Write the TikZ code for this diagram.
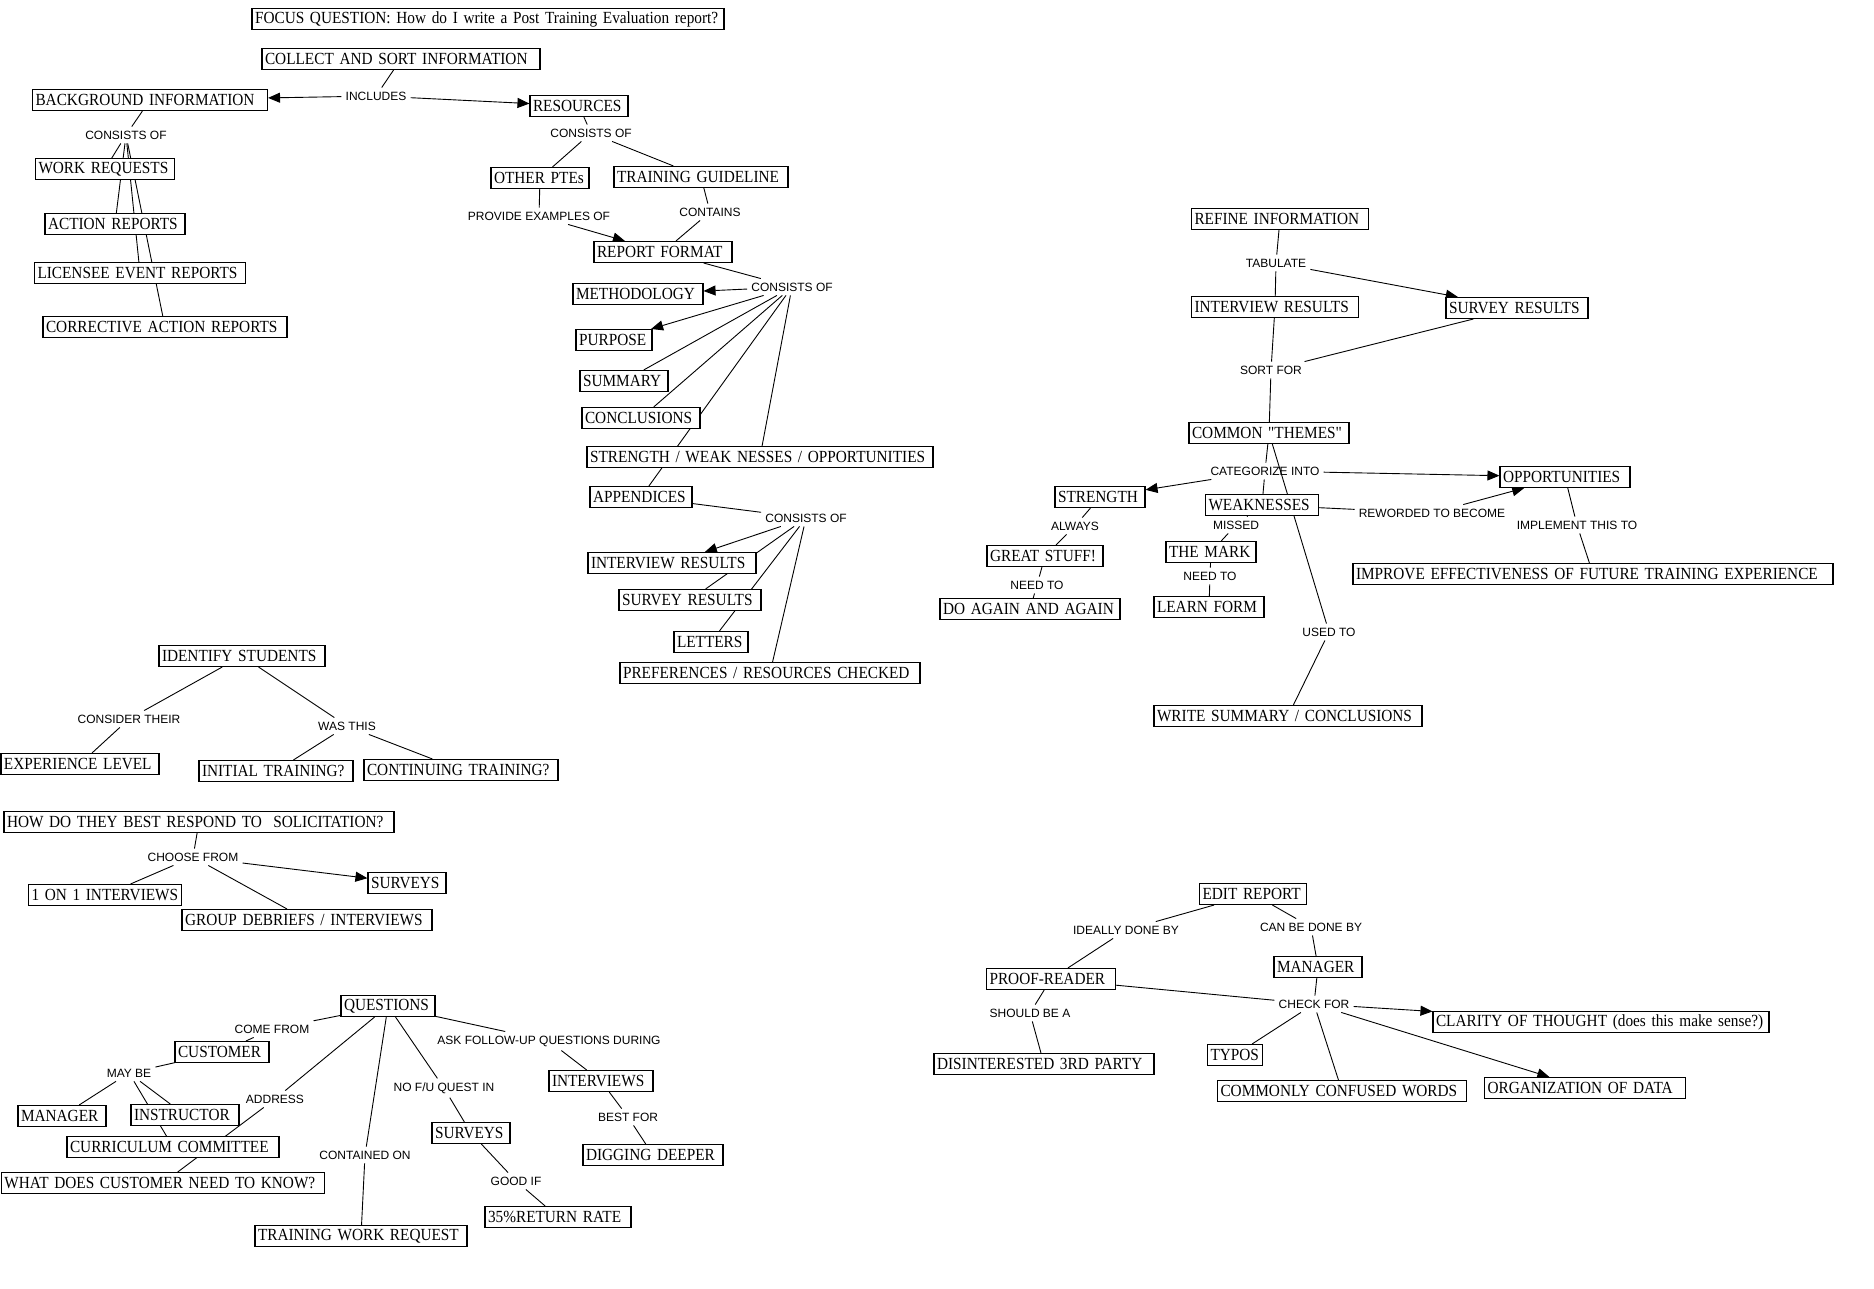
\documentclass[tikz,border=0pt]{standalone}
\usepackage{fontspec}
\newfontfamily\boxfont[FakeStretch=0.9]{Liberation Serif}
\newfontfamily\labelfont{Liberation Sans}
\usetikzlibrary{arrows.meta}
\pgfdeclarelayer{background}
\pgfsetlayers{background,main}

\begin{document}
\begin{tikzpicture}[x=1pt,y=-1pt,
  cbox/.style={draw, line width=1.1pt, fill=white, inner xsep=3pt, inner ysep=2pt,
    minimum height=21pt, align=left, font=\boxfont\fontsize{17}{18}\selectfont},
  lbl/.style={inner sep=4pt, font=\labelfont\fontsize{12}{13}\selectfont},
  link/.style={line width=0.9pt},
  arr/.style={line width=0.9pt, -{Triangle[length=12pt,width=10pt]}}]

\useasboundingbox (0,0) rectangle (1874,1288);


%focus question and collecting
\node[cbox, text width=466pt] (focus) at (488,19) {FOCUS QUESTION: How do I write a Post Training Evaluation report?};
\node[cbox, text width=272pt] (collect) at (401,59) {COLLECT AND SORT INFORMATION};
\node[lbl] (includes) at (376,96) {INCLUDES};
\node[cbox, text width=229pt] (background) at (150,100) {BACKGROUND INFORMATION};
\node[cbox, text width=92pt] (resources) at (579,106) {RESOURCES};

%background information branch
\node[lbl] (bgcons) at (126,135) {CONSISTS OF};
\node[cbox, text width=133pt] (workreq) at (105,169) {WORK REQUESTS};
\node[cbox, text width=134pt] (actionrep) at (115,224) {ACTION REPORTS};
\node[cbox, text width=205pt] (licensee) at (140,273) {LICENSEE EVENT REPORTS};
\node[cbox, text width=238pt] (corrective) at (165,327) {CORRECTIVE ACTION REPORTS};

%resources branch
\node[lbl] (rescons) at (591,133) {CONSISTS OF};
\node[cbox, text width=92pt] (otherptes) at (540,178) {OTHER PTEs};
\node[cbox, text width=168pt] (guideline) at (701,177) {TRAINING GUIDELINE};
\node[lbl] (provide) at (539,216) {PROVIDE EXAMPLES OF};
\node[lbl] (contains) at (710,212) {CONTAINS};
\node[cbox, text width=132pt] (format) at (663,252) {REPORT FORMAT};

%parts of the report format
\node[lbl] (fmtcons) at (792,287) {CONSISTS OF};
\node[cbox, text width=124pt] (method) at (638,294) {METHODOLOGY};
\node[cbox, text width=70pt] (purpose) at (614,340) {PURPOSE};
\node[cbox, text width=82pt] (summary) at (624,381) {SUMMARY};
\node[cbox, text width=112pt] (conclusions) at (641,418) {CONCLUSIONS};
\node[cbox, text width=340pt] (swo) at (760,457) {STRENGTH / WEAK NESSES / OPPORTUNITIES};
\node[cbox, text width=96pt] (appendices) at (641,497) {APPENDICES};

%appendices
\node[lbl] (appcons) at (806,518) {CONSISTS OF};
\node[cbox, text width=162pt] (interview) at (672,563) {INTERVIEW RESULTS};
\node[cbox, text width=136pt] (survey) at (690,600) {SURVEY RESULTS};
\node[cbox, text width=68pt] (letters) at (711,642) {LETTERS};
\node[cbox, text width=294pt] (prefs) at (770,673) {PREFERENCES / RESOURCES CHECKED};


%refine information
\node[cbox, text width=171pt] (refine) at (1280,219) {REFINE INFORMATION};
\node[lbl] (tabulate) at (1276,263) {TABULATE};
\node[cbox, text width=161pt] (rinterview) at (1275,307) {INTERVIEW RESULTS};
\node[cbox, text width=136pt] (rsurvey) at (1517,308) {SURVEY RESULTS};
\node[lbl] (sortfor) at (1271,370) {SORT FOR};
\node[cbox, text width=154pt] (themes) at (1269,433) {COMMON "THEMES"};
\node[lbl] (categorize) at (1265,471) {CATEGORIZE INTO};
\node[cbox, text width=124pt] (opportunities) at (1565,477) {OPPORTUNITIES};
\node[cbox, text width=84pt] (strength) at (1100,497) {STRENGTH};
\node[cbox, text width=107pt] (weaknesses) at (1262,505) {WEAKNESSES};
\node[lbl] (reworded) at (1432,513) {REWORDED TO BECOME};
\node[lbl] (implement) at (1577,525) {IMPLEMENT THIS TO};
\node[cbox, text width=474pt] (improve) at (1593,574) {IMPROVE EFFECTIVENESS OF FUTURE TRAINING EXPERIENCE};

%strength side
\node[lbl] (always) at (1075,526) {ALWAYS};
\node[cbox, text width=110pt] (great) at (1045,556) {GREAT STUFF!};
\node[lbl] (needtoa) at (1037,585) {NEED TO};
\node[cbox, text width=174pt] (doagain) at (1030,609) {DO AGAIN AND AGAIN};

%weakness side
\node[lbl] (missed) at (1236,525) {MISSED};
\node[cbox, text width=84pt] (mark) at (1211,552) {THE MARK};
\node[lbl] (needtob) at (1210,576) {NEED TO};
\node[cbox, text width=104pt] (learn) at (1209,607) {LEARN FORM};
\node[lbl] (usedto) at (1329,632) {USED TO};
\node[cbox, text width=262pt] (writesum) at (1288,716) {WRITE SUMMARY / CONCLUSIONS};


%identify students
\node[cbox, text width=160pt] (identify) at (242,656) {IDENTIFY STUDENTS};
\node[lbl] (consider) at (129,719) {CONSIDER THEIR};
\node[lbl] (wasthis) at (347,726) {WAS THIS};
\node[cbox, text width=152pt] (experience) at (80,764) {EXPERIENCE LEVEL};
\node[cbox, text width=148pt] (initial) at (276,771) {INITIAL TRAINING?};
\node[cbox, text width=188pt] (continuing) at (461,770) {CONTINUING TRAINING?};

%solicitation
\node[cbox, text width=384pt] (howdo) at (199,822) {HOW DO THEY BEST RESPOND TO\ \ SOLICITATION?};
\node[lbl] (choose) at (193,857) {CHOOSE FROM};
\node[cbox, text width=72pt] (lsurveys) at (407,883) {SURVEYS};
\node[cbox, text width=147pt] (oneonone) at (105,895) {1 ON 1 INTERVIEWS};
\node[cbox, text width=244pt] (group) at (307,920) {GROUP DEBRIEFS / INTERVIEWS};


%questions
\node[cbox, text width=88pt] (questions) at (388,1006) {QUESTIONS};
\node[lbl] (comefrom) at (272,1029) {COME FROM};
\node[cbox, text width=88pt] (customer) at (222,1052) {CUSTOMER};
\node[lbl] (maybe) at (129,1073) {MAY BE};
\node[cbox, text width=82pt] (lmanager) at (62,1116) {MANAGER};
\node[cbox, text width=102pt] (instructor) at (185,1115) {INSTRUCTOR};
\node[lbl] (address) at (275,1099) {ADDRESS};
\node[cbox, text width=206pt] (curriculum) at (173,1147) {CURRICULUM COMMITTEE};
\node[cbox, text width=317pt] (whatdoes) at (163,1183) {WHAT DOES CUSTOMER NEED TO KNOW?};
\node[lbl] (containedon) at (365,1155) {CONTAINED ON};
\node[cbox, text width=206pt] (workrequest) at (361,1236) {TRAINING WORK REQUEST};
\node[lbl] (nofu) at (444,1088) {NO F/U QUEST IN};
\node[cbox, text width=72pt] (bsurveys) at (471,1133) {SURVEYS};
\node[lbl] (goodif) at (516,1181) {GOOD IF};
\node[cbox, text width=140pt] (returnrate) at (558,1217) {35\%RETURN RATE};
\node[lbl] (askfollow) at (549,1041) {ASK FOLLOW-UP QUESTIONS DURING};
\node[cbox, text width=98pt] (binterviews) at (601,1081) {INTERVIEWS};
\node[lbl] (bestfor) at (628,1117) {BEST FOR};
\node[cbox, text width=134pt] (digging) at (653,1155) {DIGGING DEEPER};


%edit report
\node[cbox, text width=101pt] (edit) at (1253,894) {EDIT REPORT};
\node[lbl] (ideally) at (1126,930) {IDEALLY DONE BY};
\node[lbl] (canbedone) at (1311,927) {CAN BE DONE BY};
\node[cbox, text width=82pt] (rmanager) at (1318,967) {MANAGER};
\node[cbox, text width=123pt] (proof) at (1051,979) {PROOF-READER};
\node[lbl] (shouldbe) at (1030,1013) {SHOULD BE A};
\node[cbox, text width=214pt] (disinterested) at (1044,1064) {DISINTERESTED 3RD PARTY};
\node[lbl] (checkfor) at (1314,1004) {CHECK FOR};
\node[cbox, text width=49pt] (typos) at (1235,1055) {TYPOS};
\node[cbox, text width=243pt] (confused) at (1342,1091) {COMMONLY CONFUSED WORDS};
\node[cbox, text width=330pt] (clarity) at (1601,1022) {CLARITY OF THOUGHT (does this make sense?)};
\node[cbox, text width=195pt] (organization) at (1585,1088) {ORGANIZATION OF DATA};


%all the connectors sit behind the boxes
\begin{pgfonlayer}{background}
\fill[white] (0,0) rectangle (1874,1288); % paper

\draw[link] (collect) -- (includes);
\draw[arr] (includes) -- (background);
\draw[arr] (includes) -- (resources);
\draw[link] (background) -- (bgcons);
\draw[link] (bgcons) -- (workreq);
\draw[link] (bgcons) -- (actionrep);
\draw[link] (bgcons) -- (licensee);
\draw[link] (bgcons) -- (corrective);
\draw[link] (resources) -- (rescons);
\draw[link] (rescons) -- (otherptes);
\draw[link] (rescons) -- (guideline);
\draw[link] (otherptes) -- (provide);
\draw[arr] (provide) -- (format);
\draw[link] (guideline) -- (contains);
\draw[link] (contains) -- (format);
\draw[link] (format) -- (fmtcons);
\draw[arr] (fmtcons) -- (method);
\draw[arr] (fmtcons) -- (purpose);
\draw[link] (fmtcons) -- (summary);
\draw[link] (fmtcons) -- (conclusions);
\draw[link] (fmtcons) -- (appendices); % runs behind the long box
\draw[link] (fmtcons) -- (swo);
\draw[link] (appendices) -- (appcons);
\draw[arr] (appcons) -- (interview);
\draw[link] (appcons) -- (survey);
\draw[link] (appcons) -- (letters);
\draw[link] (appcons) -- (prefs);

\draw[link] (refine) -- (tabulate);
\draw[link] (tabulate) -- (rinterview);
\draw[arr] (tabulate) -- (rsurvey);
\draw[link] (rinterview) -- (sortfor);
\draw[link] (rsurvey) -- (sortfor);
\draw[link] (sortfor) -- (themes);
\draw[link] (themes) -- (categorize);
\draw[link] (themes) -- (usedto);
\draw[link] (usedto) -- (writesum);
\draw[arr] (categorize) -- (strength);
\draw[arr] (categorize) -- (opportunities);
\draw[link] (categorize) -- (weaknesses);
\draw[link] (weaknesses) -- (reworded);
\draw[arr] (reworded) -- (opportunities);
\draw[link] (opportunities) -- (implement);
\draw[link] (implement) -- (improve);
\draw[link] (strength) -- (always);
\draw[link] (always) -- (great);
\draw[link] (great) -- (needtoa);
\draw[link] (needtoa) -- (doagain);
\draw[link] (weaknesses) -- (missed);
\draw[link] (missed) -- (mark);
\draw[link] (mark) -- (needtob);
\draw[link] (needtob) -- (learn);

\draw[link] (identify) -- (consider);
\draw[link] (consider) -- (experience);
\draw[link] (identify) -- (wasthis);
\draw[link] (wasthis) -- (initial);
\draw[link] (wasthis) -- (continuing);
\draw[link] (howdo) -- (choose);
\draw[link] (choose) -- (oneonone);
\draw[link] (choose) -- (group);
\draw[arr] (choose) -- (lsurveys);

\draw[link] (questions) -- (comefrom);
\draw[link] (comefrom) -- (customer);
\draw[link] (customer) -- (maybe);
\draw[link] (maybe) -- (lmanager);
\draw[link] (maybe) -- (instructor);
\draw[link] (maybe) -- (curriculum);
\draw[link] (questions) -- (address);
\draw[link] (address) -- (whatdoes);
\draw[link] (questions) -- (containedon);
\draw[link] (containedon) -- (workrequest);
\draw[link] (questions) -- (nofu);
\draw[link] (nofu) -- (bsurveys);
\draw[link] (bsurveys) -- (goodif);
\draw[link] (goodif) -- (returnrate);
\draw[link] (questions) -- (askfollow);
\draw[link] (askfollow) -- (binterviews);
\draw[link] (binterviews) -- (bestfor);
\draw[link] (bestfor) -- (digging);

\draw[link] (edit) -- (ideally);
\draw[link] (ideally) -- (proof);
\draw[link] (edit) -- (canbedone);
\draw[link] (canbedone) -- (rmanager);
\draw[link] (proof) -- (shouldbe);
\draw[link] (shouldbe) -- (disinterested);
\draw[link] (proof) -- (checkfor);
\draw[link] (rmanager) -- (checkfor);
\draw[arr] (checkfor) -- (clarity);
\draw[link] (checkfor) -- (typos);
\draw[link] (checkfor) -- (confused);
\draw[arr] (checkfor) -- (organization);
\end{pgfonlayer}

\end{tikzpicture}
\end{document}
